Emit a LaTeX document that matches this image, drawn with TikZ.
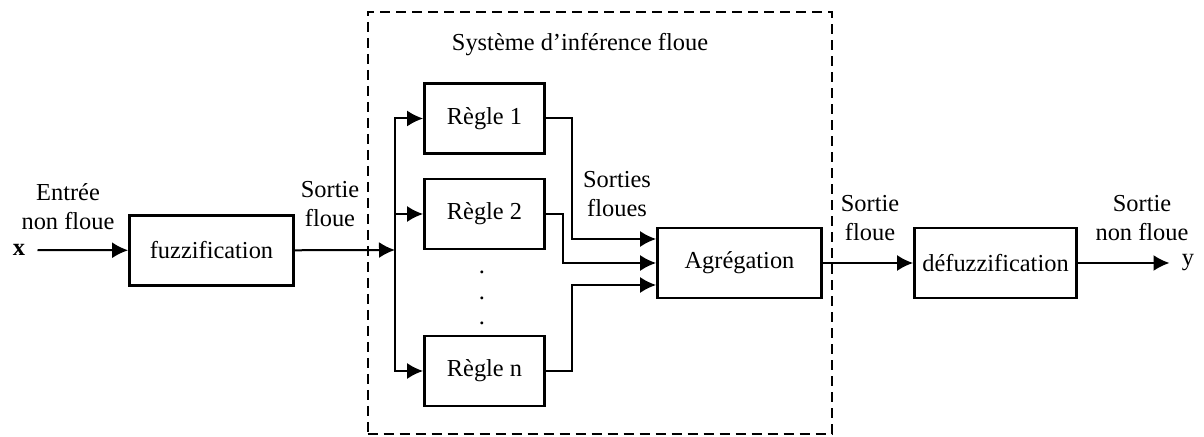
\documentclass[tikz,border=0pt]{standalone}
\usepackage{fontspec}
\setmainfont{Liberation Serif}
\usetikzlibrary{arrows.meta}
\begin{document}
\begin{tikzpicture}[x=0.5pt,y=-0.5pt]

    \tikzstyle{bloc}=[draw=black,line width=1.4pt,minimum height=35pt,inner sep=0pt,font=\fontsize{12.2}{14.5}\selectfont]
    \tikzstyle{regle}=[bloc,minimum width=60pt]
    \tikzstyle{etiq}=[align=center,inner sep=0pt,font=\fontsize{12.2}{14.5}\selectfont]
    \tikzstyle{cadre}=[draw=black,line width=1pt,dash pattern=on 5pt off 3pt,minimum width=232pt,minimum height=211pt]

    \useasboundingbox (0,0) rectangle (1204,437);

    \node[cadre] (sif) at (599.5,223) {};
    \node[etiq] (titre) at (580,45) {Système d’inférence floue};

    \node[etiq,inner xsep=6pt,font=\fontsize{12.2}{14.5}\selectfont\bfseries] (x) at (19,250) {x};
    \node[etiq] (entree) at (68,207) {Entrée\\non floue};
    \node[bloc,minimum width=82pt] (fuzz) at (211.5,250.5) {fuzzification};
    \node[etiq] (sortie1) at (330,204) {Sortie\\floue};

    \node[regle] (r1) at (484.5,118.5) {Règle 1};
    \node[regle] (r2) at (484.5,214) {Règle 2};
    \node[regle] (rn) at (484.5,371) {Règle n};
    \foreach \yy [count=\i] in {272,298,323}
        \node[etiq] (d\i) at (482,\yy) {.};

    \node[etiq] (sorties) at (617,194) {Sorties\\floues};
    \node[bloc,minimum width=82pt] (agr) at (739.5,263) {Agrégation};
    \node[etiq] (sortie2) at (870,218) {Sortie\\floue};
    \node[bloc,minimum width=81pt] (defuzz) at (995.5,263) {défuzzification};
    \node[etiq] (sortie3) at (1142,218) {Sortie\\non floue};
    \node[etiq,inner xsep=6pt] (y) at (1188,263) {y};

    \coordinate (br) at (395,250);

    \tikzstyle{fleche} = [draw=black, line width=1pt, -{Latex[length=8pt,width=8pt]}]

          \draw [fleche] (x) -- (fuzz);
          \draw [fleche] (fuzz) -- (br);
          \draw [fleche] (br) |- (r1);
          \draw [fleche] (br) |- (r2);
          \draw [fleche] (br) |- (rn);
          \draw [fleche] (r1.east) -- ++(26,0) |- ([yshift=12pt]agr.west);
          \draw [fleche] (r2.east) -- ++(17,0) |- (agr.west);
          \draw [fleche] (rn.east) -- ++(26,0) |- ([yshift=-11pt]agr.west);
          \draw [fleche] (agr) -- (defuzz);
          \draw [fleche] (defuzz) -- (y);

\end{tikzpicture}
\end{document}
